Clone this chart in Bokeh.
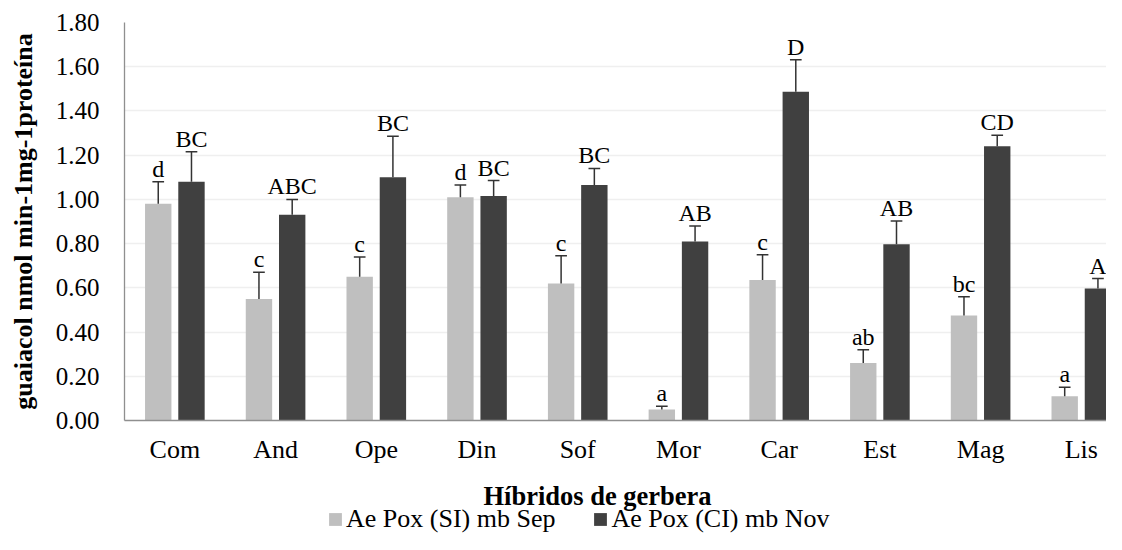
from bokeh.plotting import figure
from bokeh.layouts import column
from bokeh.models import (Range1d, FixedTicker, NumeralTickFormatter, Label,
                          Legend, LegendItem, ColumnDataSource)
from bokeh.core.properties import value
from bokeh.embed import file_html
from bokeh.resources import INLINE
import numpy as np

categories = ["Com", "And", "Ope", "Din", "Sof", "Mor", "Car", "Est", "Mag", "Lis"]
sep_vals = [0.98, 0.55, 0.65, 1.01, 0.62, 0.05, 0.635, 0.26, 0.475, 0.11]
sep_err = [0.10, 0.12, 0.09, 0.055, 0.125, 0.015, 0.115, 0.06, 0.085, 0.04]
sep_letters = ["d", "c", "c", "d", "c", "a", "c", "ab", "bc", "a"]
nov_vals = [1.08, 0.93, 1.10, 1.015, 1.065, 0.81, 1.487, 0.797, 1.24, 0.597]
nov_err = [0.135, 0.07, 0.185, 0.07, 0.075, 0.07, 0.145, 0.105, 0.05, 0.045]
nov_letters = ["BC", "ABC", "BC", "BC", "BC", "AB", "D", "AB", "CD", "A"]
series_names = ["Ae Pox (SI) mb Sep", "Ae Pox (CI) mb Nov"]
y_ticks = [0.0, 0.2, 0.4, 0.6, 0.8, 1.0, 1.2, 1.4, 1.6, 1.8]
x_title = "Híbridos de gerbera"
y_title = "guaiacol nmol min-1mg-1proteína"

FONT = "Liberation Serif"
LIGHT = "#BFBFBF"
DARK = "#404040"
AXIS = "#8F8F8F"
W = 1106
LEFT = 124
H1 = 466
H2 = 68

idx = np.arange(len(categories)) + 0.5
off = 0.165
bw = 0.262
cap = 0.058

p = figure(width=W, height=H1, output_backend="svg", toolbar_location=None,
           x_range=Range1d(0, 9.75), y_range=Range1d(0, 1.8),
           min_border_left=LEFT, min_border_right=0, min_border_top=22,
           min_border_bottom=45)
p.outline_line_color = None
p.xgrid.grid_line_color = None
p.ygrid.grid_line_color = "#EFEFEF"
p.ygrid.grid_line_width = 1.5
p.ygrid.ticker = FixedTicker(ticks=y_ticks)

# bars
r_sep = p.vbar(x=idx - off, top=sep_vals, width=bw, fill_color=LIGHT, line_color=None)
r_nov = p.vbar(x=idx + off, top=nov_vals, width=bw, fill_color=DARK, line_color=None)

# error bars
for xs, vals, errs in [(idx - off, sep_vals, sep_err), (idx + off, nov_vals, nov_err)]:
    v = np.array(vals)
    e = np.array(errs)
    p.segment(x0=xs, y0=v, x1=xs, y1=v + e, line_color="#333333", line_width=1.5)
    p.segment(x0=xs - cap, y0=v + e, x1=xs + cap, y1=v + e, line_color="#333333", line_width=1.5)

# letters
for xs, vals, errs, labs in [(idx - off, sep_vals, sep_err, sep_letters),
                             (idx + off, nov_vals, nov_err, nov_letters)]:
    src = ColumnDataSource(dict(x=xs, y=np.array(vals) + np.array(errs), t=labs))
    p.text(x="x", y="y", text="t", source=src, text_align="center",
           text_baseline="alphabetic", y_offset=-13, text_font=value(FONT),
           text_font_size="24px", text_color="black")

# axes
p.yaxis.ticker = FixedTicker(ticks=y_ticks)
p.yaxis.formatter = NumeralTickFormatter(format="0.00")
p.yaxis.major_label_text_font = FONT
p.yaxis.major_label_text_font_size = "25px"
p.yaxis.major_label_text_color = "black"
p.yaxis.major_tick_line_color = None
p.yaxis.major_tick_out = 0
p.yaxis.major_tick_in = 0
p.yaxis.minor_tick_line_color = None
p.yaxis.minor_tick_out = 0
p.yaxis.major_label_standoff = 25
p.yaxis.axis_line_color = AXIS
p.yaxis.axis_line_width = 1.3
p.yaxis.axis_label = y_title
p.yaxis.axis_label_text_font = FONT
p.yaxis.axis_label_text_font_size = "26px"
p.yaxis.axis_label_text_font_style = "bold"
p.yaxis.axis_label_text_color = "black"
p.yaxis.axis_label_standoff = 15

p.xaxis.ticker = FixedTicker(ticks=list(idx))
p.xaxis.major_label_overrides = {float(t): c for t, c in zip(idx, categories)}
p.xaxis.major_label_text_font = FONT
p.xaxis.major_label_text_font_size = "26px"
p.xaxis.major_label_text_color = "black"
p.xaxis.major_tick_line_color = None
p.xaxis.major_tick_out = 0
p.xaxis.major_tick_in = 0
p.xaxis.minor_tick_line_color = None
p.xaxis.minor_tick_out = 0
p.xaxis.major_label_standoff = 14
p.xaxis.axis_line_color = AXIS
p.xaxis.axis_line_width = 1.3

# lower strip: axis title + legend (its frame is aligned with the plot frame)
q = figure(width=W, height=H2, output_backend="svg", toolbar_location=None,
           x_range=Range1d(0, W - LEFT), y_range=Range1d(0, H2),
           min_border_left=LEFT, min_border_right=0, min_border_top=0, min_border_bottom=0)
q.axis.visible = False
q.grid.visible = False
q.outline_line_color = None

q.add_layout(Label(x=473, y=38.5, text=x_title, text_align="center",
                   text_baseline="alphabetic", text_font=FONT, text_font_size="26.5px",
                   text_font_style="bold", text_color="black"))

# zero-height proxies carrying the series styles for the legend swatches
l_sep = q.vbar(x=idx - off, top=sep_vals, bottom=sep_vals, width=bw,
               fill_color=LIGHT, line_color=None)
l_nov = q.vbar(x=idx + off, top=nov_vals, bottom=nov_vals, width=bw,
               fill_color=DARK, line_color=None)
legend = Legend(items=[LegendItem(label=series_names[0], renderers=[l_sep]),
                       LegendItem(label=series_names[1], renderers=[l_nov])],
                location=(203, 0), orientation="horizontal", padding=0, margin=0,
                spacing=37, label_standoff=3, glyph_width=16, glyph_height=16,
                label_text_font=FONT, label_text_font_size="26px", label_text_color="black",
                border_line_color=None, background_fill_alpha=0)
q.add_layout(legend, "center")

layout = column(p, q, spacing=0)
open("out.html", "w").write(file_html(layout, INLINE))
